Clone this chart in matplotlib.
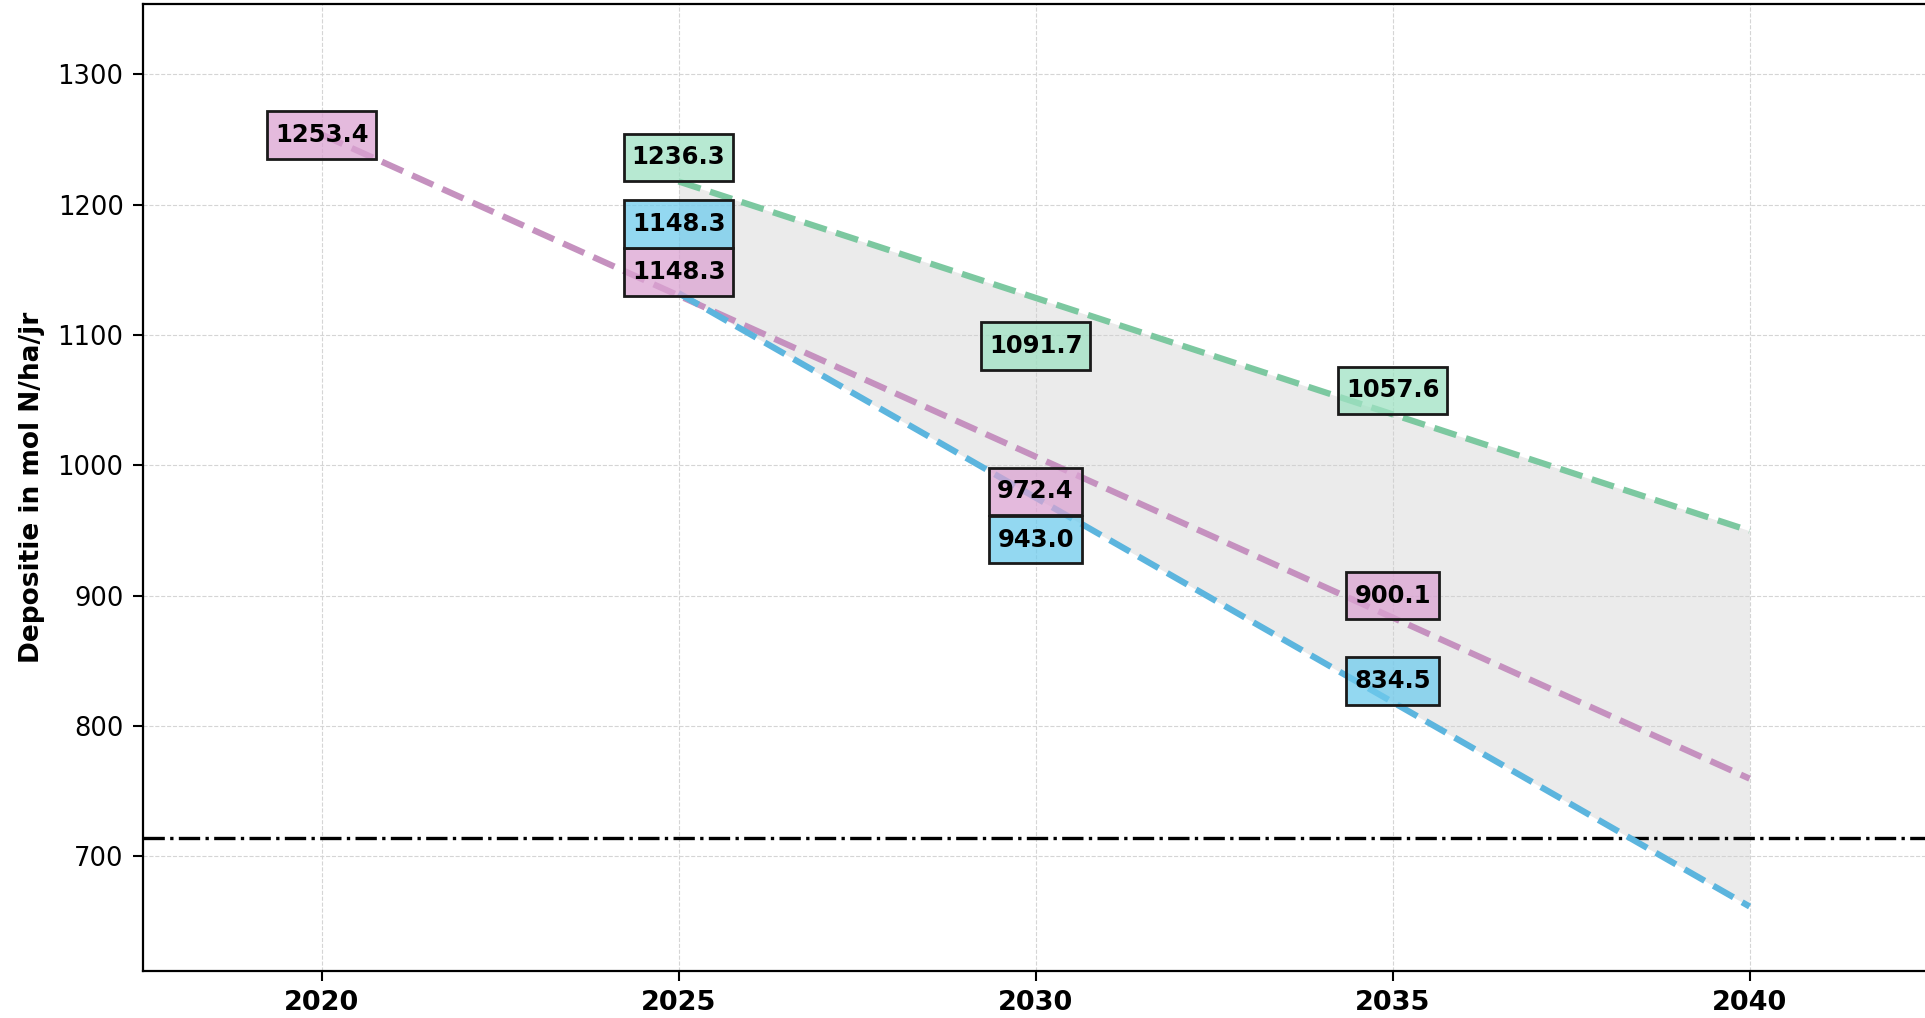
import numpy as np
import matplotlib
matplotlib.use("Agg")
import matplotlib.pyplot as plt
from matplotlib.colors import to_rgba
from matplotlib.path import Path

# ---- data ----
years_pink = [2020, 2025, 2030, 2035]
vals_pink = [1253.4, 1148.3, 972.4, 900.1]
years_blue = [2025, 2030, 2035]
vals_blue = [1148.3, 943.0, 834.5]
years_green = [2025, 2030, 2035]
vals_green = [1236.3, 1091.7, 1057.6]
threshold = 714
end_year = 2040
xticks = [2020, 2025, 2030, 2035, 2040]
yticks = [700, 800, 900, 1000, 1100, 1200, 1300]
ylabel = "Depositie in mol N/ha/jr"

series = [
    (years_pink, vals_pink, "#c591bf", "#dba3d2"),
    (years_blue, vals_blue, "#5cb5de", "#6fcbed"),
    (years_green, vals_green, "#7cc8a0", "#9fe2c3"),
]


def label_box(x0, y0, width, height, mutation_size):
    px = 0.33 * mutation_size
    py = 0.48 * mutation_size
    x0, y0 = x0 - px, y0 - py
    x1, y1 = x0 + width + 2 * px, y0 + height + 2 * py
    return Path([(x0, y0), (x1, y0), (x1, y1), (x0, y1), (x0, y0)], closed=True)


fig = plt.figure(figsize=(19.25, 10.18), dpi=100)
ax = fig.add_axes([0.0743, 0.0462, 0.9273, 0.9498])

grid = np.linspace(2025, end_year, 200)
fits_on_grid = []
for yrs, vals, lc, fc in series:
    coef = np.polyfit(yrs, vals, 1)
    xs = np.linspace(yrs[0], end_year, 200)
    ax.plot(xs, np.polyval(coef, xs), ls="--", lw=4.5, color=lc, zorder=3)
    fits_on_grid.append(np.polyval(coef, grid))

fits_on_grid = np.array(fits_on_grid)
ax.fill_between(grid, fits_on_grid.min(axis=0), fits_on_grid.max(axis=0),
                color="#d0d0d0", alpha=0.42, lw=0, zorder=1)

ax.axhline(threshold, color="black", ls="-.", lw=2.4, zorder=2)

# labels with simple overlap avoidance
min_gap = 37
all_years = sorted(set(y for s in series for y in s[0]))
for yr in all_years:
    items = []
    for idx, (yrs, vals, lc, fc) in enumerate(series):
        if yr in yrs:
            items.append((vals[yrs.index(yr)], idx, fc))
    items.sort(key=lambda t: (t[0], t[1]))
    last = -1e9
    for v, idx, fc in items:
        pos = max(v, last + min_gap)
        last = pos
        ax.text(yr, pos, f"{v:.1f}", ha="center", va="center", fontsize=17.5,
                fontweight="bold", zorder=5,
                bbox=dict(boxstyle=label_box, facecolor=to_rgba(fc, 0.75),
                          edgecolor="#1a1a1a", linewidth=2.0))

ax.set_xlim(2017.5, 2042.5)
ax.set_ylim(612, 1354)
ax.set_xticks(xticks)
ax.set_yticks(yticks)
ax.tick_params(axis="x", labelsize=19.5, length=7, width=1.5, pad=7)
ax.tick_params(axis="y", labelsize=18.5, length=7, width=1.5, pad=7)
for lab in ax.get_xticklabels():
    lab.set_fontweight("bold")
ax.grid(True, ls="--", lw=0.8, color="#d5d5d5", zorder=0)
ax.set_axisbelow(True)
for sp in ax.spines.values():
    sp.set_linewidth(1.6)
ax.set_ylabel(ylabel, fontsize=19, fontweight="bold", labelpad=9)

fig.savefig("out.png", dpi=100)
